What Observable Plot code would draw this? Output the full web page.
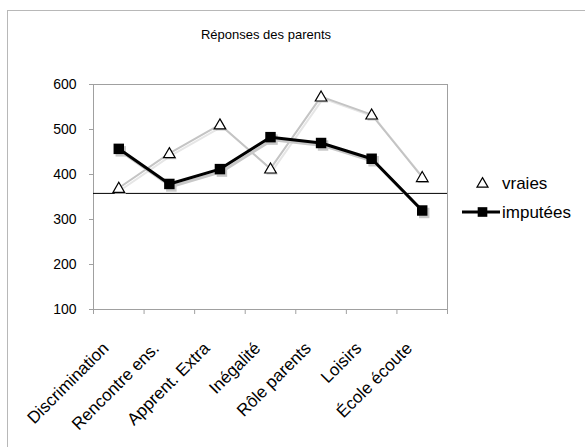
<!DOCTYPE html>
<html><head><meta charset="utf-8">
<script src="https://cdn.jsdelivr.net/npm/d3@7"></script>
<script src="https://cdn.jsdelivr.net/npm/@observablehq/plot@0.6"></script>
<style>
html,body{margin:0;padding:0;background:#fff;overflow:hidden;}
#wrap{position:relative;width:585px;height:447px;font-family:"Liberation Sans",Arial,sans-serif;overflow:hidden;}
#border{position:absolute;left:7px;top:10px;width:700px;height:600px;border:1px solid #b8b8b8;}
#title{position:absolute;left:166px;width:200px;top:27px;text-align:center;font-size:13px;line-height:16px;color:#000;}
#chart svg{position:absolute;left:0;top:0;background:transparent;}
#legend{position:absolute;left:0;top:0;}
.pc g[aria-label="y-axis tick label"]{font-size:14px;}
.pc g[aria-label="x-axis tick label"]{font-size:17px;}
</style></head><body>
<div id="wrap"><div id="border"></div><div id="title">Réponses des parents</div><div id="chart"></div><svg id="legend" width="585" height="447"></svg></div>
<script>
const categories = ["Discrimination", "Rencontre ens.", "Apprent. Extra", "Inégalité", "Rôle parents", "Loisirs", "École écoute"];
const vraies = [370, 447, 511, 413, 573, 533, 394];
const imputees = [457, 379, 412, 483, 470, 435, 320];
const referenceLine = 358;
const yTicks = [100, 200, 300, 400, 500, 600];
const seriesNames = ["vraies", "imputées"];

const idx = categories.map((c, i) => i);
const bounds = d3.range(-0.5, categories.length, 1);
const rowsV = categories.map((c, i) => ({i, c, v: vraies[i]}));
const rowsI = categories.map((c, i) => ({i, c, v: imputees[i]}));

const FONT = "'Liberation Sans', Arial, sans-serif";
const triR = 4.3, sqR = 5.9;

const chart = Plot.plot({
  width: 585, height: 447,
  className: "pc",
  marginLeft: 93, marginRight: 138, marginTop: 84, marginBottom: 138,
  style: {fontFamily: FONT, background: "transparent", color: "black"},
  x: {type: "linear", domain: [-0.5, categories.length - 0.5]},
  y: {domain: [100, 600]},
  marks: [
    Plot.frame({stroke: "#a0a0a0"}),
    Plot.axisY({ticks: yTicks, tickSize: 4, tickPadding: 13, fontSize: 14, stroke: "#a0a0a0", fill: "black", label: null}),
    Plot.axisX({ticks: bounds, tickSize: 5, tickFormat: () => "", stroke: "#a0a0a0", label: null}),
    Plot.axisX({ticks: idx, tickSize: 0, tickPadding: 36, dx: -13, tickRotate: -45, fontSize: 17, fill: "black", tickFormat: d => categories[d], label: null}),
    Plot.line(rowsV, {x: "i", y: "v", stroke: "#e6e6e6", strokeWidth: 2, dx: 2, dy: 2}),
    Plot.line(rowsV, {x: "i", y: "v", stroke: "#c4c4c4", strokeWidth: 2}),
    Plot.ruleY([referenceLine], {stroke: "black", strokeWidth: 1}),
    Plot.dot(rowsV, {x: "i", y: "v", symbol: "triangle", r: triR, fill: "#c8c8c8", stroke: "none", dx: 1.5, dy: 2.5}),
    Plot.dot(rowsV, {x: "i", y: "v", symbol: "triangle", r: triR, fill: "white", stroke: "black", strokeWidth: 1.2, dy: 1}),
    Plot.line(rowsI, {x: "i", y: "v", stroke: "#c8c8c8", strokeWidth: 3, dx: 2, dy: 2.5}),
    Plot.dot(rowsI, {x: "i", y: "v", symbol: "square", r: sqR, fill: "#c8c8c8", stroke: "none", dx: 2, dy: 2.5}),
    Plot.line(rowsI, {x: "i", y: "v", stroke: "black", strokeWidth: 3}),
    Plot.dot(rowsI, {x: "i", y: "v", symbol: "square", r: sqR, fill: "black", stroke: "none"})
  ]
});
document.getElementById("chart").appendChild(chart);

const lg = d3.select("#legend");
const items = [
  {name: seriesNames[0], y: 183, symbol: d3.symbolTriangle, size: Math.PI * 4.1 * 4.1, line: false, fill: "white", stroke: "black"},
  {name: seriesNames[1], y: 212, symbol: d3.symbolSquare, size: Math.PI * sqR * sqR * 0.85, line: true, fill: "black", stroke: "none"}
];
items.forEach(it => {
  const g = lg.append("g");
  if (it.line) g.append("line").attr("x1", 462).attr("x2", 500).attr("y1", it.y).attr("y2", it.y).attr("stroke", "black").attr("stroke-width", 3);
  g.append("path").attr("d", d3.symbol(it.symbol, it.size)()).attr("transform", `translate(482.5,${it.y + (it.line ? 0 : 1)})`)
    .attr("fill", it.fill).attr("stroke", it.stroke).attr("stroke-width", 1.2);
  g.append("text").attr("x", 502).attr("y", it.y).attr("dy", "0.35em").attr("font-size", 17)
    .attr("font-family", FONT).attr("fill", "black").text(it.name);
});
</script>
</body></html>
